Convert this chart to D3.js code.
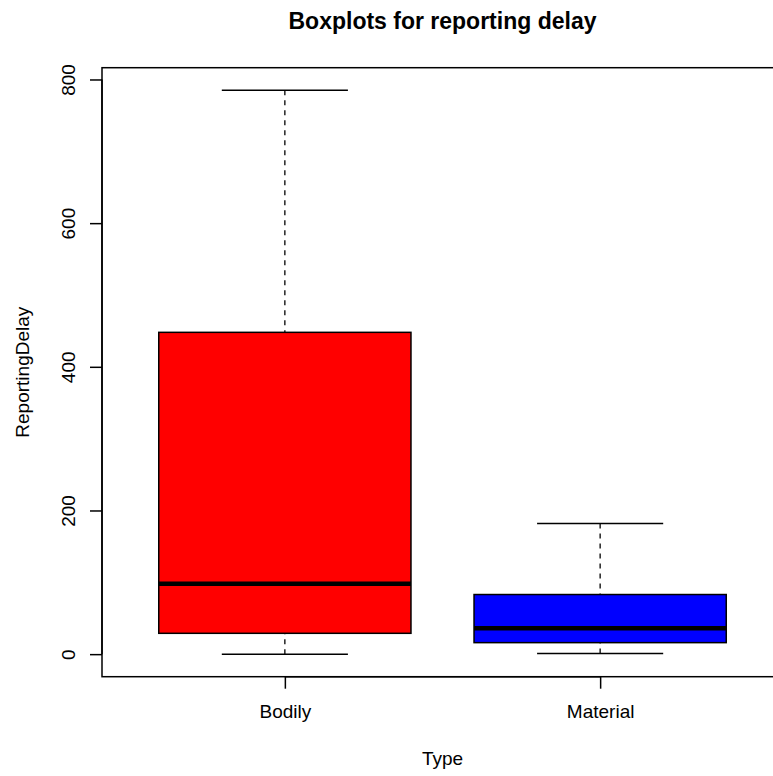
<!DOCTYPE html>
<html>
<head>
<meta charset="utf-8">
<script src="https://cdn.jsdelivr.net/npm/d3@7"></script>
<style>
  body { margin: 0; background: #fff; }
  text { font-family: "Liberation Sans", Arial, sans-serif; fill: #000; }
</style>
</head>
<body>
<div id="viz"></div>
<script>
// boxplot stats
var categories = ["Bodily", "Material"];
var lowWhisker = [0, 1];
var q1 = [29, 16];
var medians = [98, 36];
var q3 = [448, 83];
var highWhisker = [785, 182];
var boxColors = ["#FF0000", "#0000FF"];
var yTicks = [0, 200, 400, 600, 800];

var width = 773, height = 776;
var plotLeft = 102, plotRight = 783, plotTop = 67.7, plotBottom = 676.7;

var svg = d3.select("#viz").append("svg")
    .attr("width", width)
    .attr("height", height);

// R style: range padded by 4% each side
var yMin = d3.min(lowWhisker), yMax = d3.max(highWhisker);
var yPad = (yMax - yMin) * 0.04;
var y = d3.scaleLinear()
    .domain([yMin - yPad, yMax + yPad])
    .range([plotBottom, plotTop]);

var x = d3.scaleLinear()
    .domain([0.5 - 0.08, categories.length + 0.5 + 0.08])
    .range([plotLeft, plotRight]);

var boxHalf = 0.4, capHalf = 0.2;

var g = svg.append("g");

categories.forEach(function(cat, i) {
    var cx = i + 1;
    // whiskers
    g.append("line")
        .attr("x1", x(cx)).attr("x2", x(cx))
        .attr("y1", y(highWhisker[i])).attr("y2", y(q3[i]))
        .attr("stroke", "#000").attr("stroke-width", 1.3)
        .attr("stroke-dasharray", "5,5");
    g.append("line")
        .attr("x1", x(cx)).attr("x2", x(cx))
        .attr("y1", y(lowWhisker[i])).attr("y2", y(q1[i]))
        .attr("stroke", "#000").attr("stroke-width", 1.3)
        .attr("stroke-dasharray", "5,5");
    // caps
    [highWhisker[i], lowWhisker[i]].forEach(function(v) {
        g.append("line")
            .attr("x1", x(cx - capHalf)).attr("x2", x(cx + capHalf))
            .attr("y1", y(v)).attr("y2", y(v))
            .attr("stroke", "#000").attr("stroke-width", 1.5);
    });
    // box
    g.append("rect")
        .attr("x", x(cx - boxHalf))
        .attr("y", y(q3[i]))
        .attr("width", x(cx + boxHalf) - x(cx - boxHalf))
        .attr("height", y(q1[i]) - y(q3[i]))
        .attr("fill", boxColors[i])
        .attr("stroke", "#000").attr("stroke-width", 1.5);
    // median
    g.append("line")
        .attr("x1", x(cx - boxHalf)).attr("x2", x(cx + boxHalf))
        .attr("y1", y(medians[i])).attr("y2", y(medians[i]))
        .attr("stroke", "#000").attr("stroke-width", 4.5);
});

// frame
svg.append("rect")
    .attr("x", plotLeft).attr("y", plotTop)
    .attr("width", plotRight - plotLeft).attr("height", plotBottom - plotTop)
    .attr("fill", "none").attr("stroke", "#000").attr("stroke-width", 1.5);

// y axis
var yAxis = svg.append("g")
    .attr("transform", "translate(" + plotLeft + ",0)")
    .call(d3.axisLeft(y).tickValues(yTicks).tickSize(12).tickSizeOuter(0).tickFormat(d3.format("d")));
yAxis.select(".domain").attr("d", "M0," + y(yTicks[0]) + "V" + y(yTicks[yTicks.length - 1]))
    .attr("stroke", "#000").attr("stroke-width", 1.5);
yAxis.selectAll(".tick line").attr("stroke", "#000").attr("stroke-width", 1.5);
yAxis.selectAll(".tick text")
    .attr("x", null).attr("dy", null)
    .attr("font-size", "19px")
    .attr("text-anchor", "middle")
    .attr("transform", "translate(-27,0) rotate(-90)");

// x axis
var xAxis = svg.append("g")
    .attr("transform", "translate(0," + plotBottom + ")")
    .call(d3.axisBottom(x).tickValues(categories.map(function(d, i) { return i + 1; }))
        .tickSize(12).tickSizeOuter(0)
        .tickFormat(function(d) { return categories[d - 1]; }));
xAxis.select(".domain").attr("d", "M" + x(1) + ",0H" + x(categories.length))
    .attr("stroke", "#000").attr("stroke-width", 1.5);
xAxis.selectAll(".tick line").attr("stroke", "#000").attr("stroke-width", 1.5);
xAxis.selectAll(".tick text")
    .attr("y", 41).attr("dy", null)
    .attr("font-size", "19px");

// titles
svg.append("text")
    .attr("x", (plotLeft + plotRight) / 2).attr("y", 29)
    .attr("text-anchor", "middle")
    .attr("font-size", "23px").attr("font-weight", "bold")
    .text("Boxplots for reporting delay");

svg.append("text")
    .attr("x", (plotLeft + plotRight) / 2).attr("y", 765)
    .attr("text-anchor", "middle")
    .attr("font-size", "19px")
    .text("Type");

svg.append("text")
    .attr("transform", "translate(29," + (plotTop + plotBottom) / 2 + ") rotate(-90)")
    .attr("text-anchor", "middle")
    .attr("font-size", "19px")
    .text("ReportingDelay");
</script>
</body>
</html>
